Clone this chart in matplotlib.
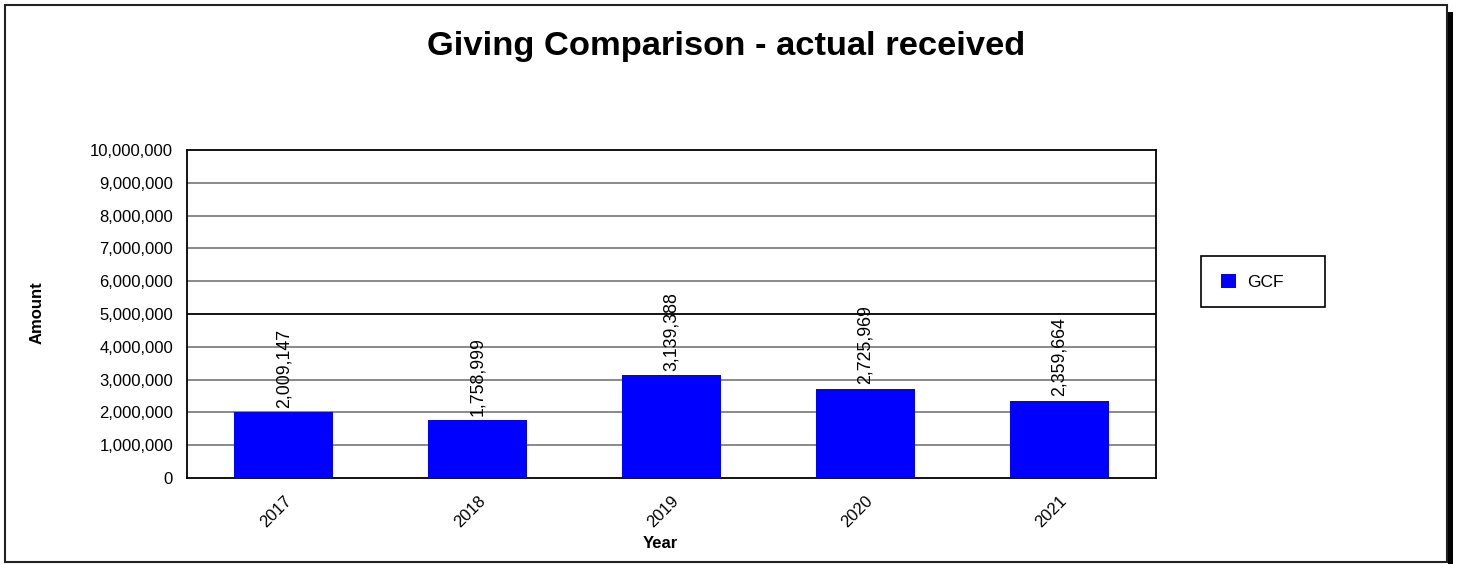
import matplotlib
matplotlib.use("Agg")
import matplotlib.pyplot as plt
from matplotlib.patches import Rectangle
from matplotlib.ticker import FuncFormatter
from matplotlib.transforms import ScaledTranslation

plt.rcParams['font.family'] = ['Liberation Sans', 'DejaVu Sans']

years = ["2017", "2018", "2019", "2020", "2021"]
gcf = [2009147, 1758999, 3139388, 2725969, 2359664]
yticks = list(range(0, 10000001, 1000000))

W, H = 1463, 564
fig = plt.figure(figsize=(W / 100, H / 100), dpi=100)
fig.patch.set_facecolor('white')

def fx(px):
    return px / W

def fy(py):
    return 1 - py / H

# outer frame + shadow
fig.add_artist(Rectangle((fx(1448), fy(564)), fx(5), (564 - 12) / H, transform=fig.transFigure,
                         facecolor='black', edgecolor='none', zorder=-20))
fig.add_artist(Rectangle((fx(5), fy(562)), fx(1442), (562 - 5) / H, transform=fig.transFigure,
                         facecolor='white', edgecolor='#222222', linewidth=1.5, zorder=-10))

ax = fig.add_axes([fx(187), fy(478), fx(1156 - 187), (478 - 150) / H])
ax.set_facecolor('white')
x = list(range(len(years)))
bars = ax.bar(x, gcf, width=0.51, color='#0000FF', zorder=3, label='GCF')
ax.set_xlim(-0.5, len(years) - 0.5)
ax.set_ylim(0, 10000000)
ax.set_yticks(yticks)
ax.yaxis.set_major_formatter(FuncFormatter(lambda v, p: f"{int(v):,}"))
for v in yticks[1:-1]:
    ax.axhline(v, color='black' if v == 5000000 else '#808080', linewidth=1.3, zorder=1)
for s in ax.spines.values():
    s.set_color('black')
    s.set_linewidth(1.3)
ax.tick_params(axis='y', length=0, labelsize=12, pad=10)
ax.tick_params(axis='x', length=0, labelsize=12, pad=11)
ax.set_xticks(x)
ax.set_xticklabels(years, rotation=45, ha='center', va='top')
shift = ScaledTranslation(-8 / 100, 0, fig.dpi_scale_trans)
for lab in ax.get_xticklabels():
    lab.set_transform(lab.get_transform() + shift)

for xi, v in zip(x, gcf):
    ax.annotate(f"{v:,}", (xi, v), xytext=(0, 3), textcoords='offset points',
                rotation=90, ha='center', va='bottom', fontsize=12.8, zorder=4)

fig.text(fx(726), fy(46), "Giving Comparison - actual received", ha='center', va='center',
         fontsize=24.8, fontweight='bold')
fig.text(fx(660), fy(543), "Year", ha='center', va='center', fontsize=12, fontweight='bold')
fig.text(fx(37), fy(313), "Amount", ha='center', va='center', fontsize=12, fontweight='bold',
         rotation=90)

# legend box
fig.add_artist(Rectangle((fx(1201), fy(307)), fx(124), (307 - 256) / H, transform=fig.transFigure,
                         facecolor='white', edgecolor='black', linewidth=1.2, zorder=5))
leg = fig.legend(handles=[bars], labels=['GCF'], loc='center left',
                 bbox_to_anchor=(fx(1221), fy(282)),
                 frameon=False, fontsize=12.5,
                 handlelength=0.88, handleheight=0.88, borderpad=0, borderaxespad=0,
                 handletextpad=0.62)
leg.set_zorder(6)

fig.savefig("out.png", dpi=100)
